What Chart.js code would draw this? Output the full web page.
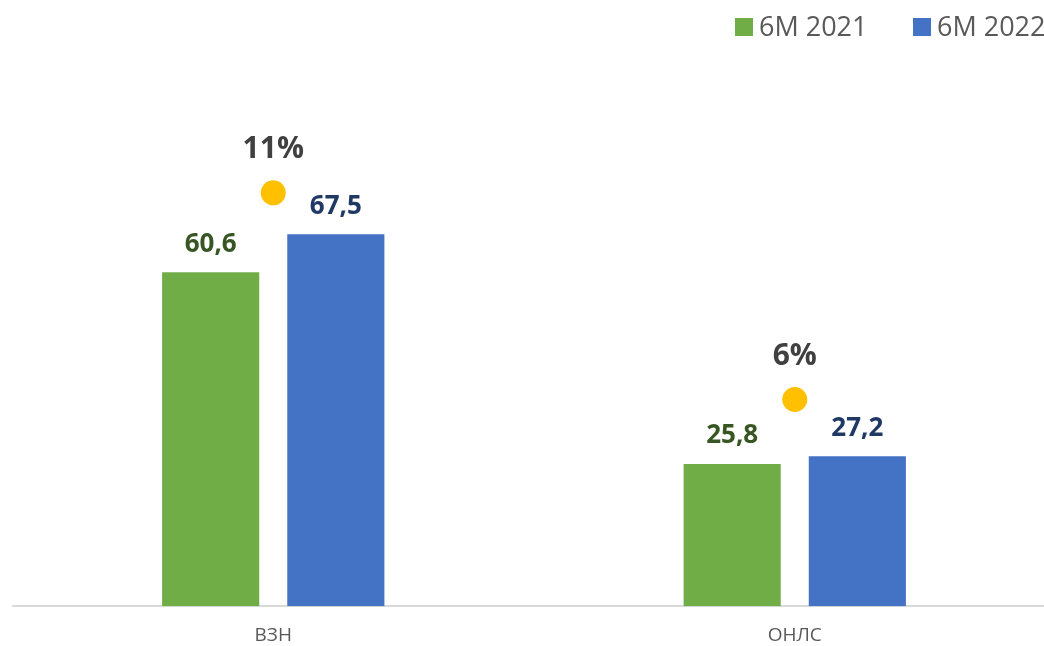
<!DOCTYPE html>
<html>
<head>
<meta charset="utf-8">
<script src="https://cdn.jsdelivr.net/npm/chart.js@4.4.0/dist/chart.umd.min.js"></script>
<style>
html,body{margin:0;padding:0;background:#fff;overflow:hidden;}
#wrap{width:1044px;height:646px;overflow:hidden;}
canvas{display:block;}
</style>
</head>
<body>
<div id="wrap"><canvas id="chart" width="1068" height="667"></canvas></div>
<script>
// ===== data =====
const categories = ['ВЗН', 'ОНЛС'];
const values2021 = [60.6, 25.8];
const values2022 = [67.5, 27.2];
const growthLabels = ['11%', '6%'];
const markerLevel = [75, 37.5]; // where the yellow dots sit
const seriesNames = ['6M 2021', '6M 2022'];

const FONT = "'Open Sans', 'Noto Sans', sans-serif";

// bar value labels + growth labels
const labelsPlugin = {
    id: 'labels',
    afterDatasetsDraw(chart){
        const ctx = chart.ctx;
        ctx.save();
        ctx.textAlign = 'center';
        ctx.textBaseline = 'bottom';
        ctx.font = 'bold 26px ' + FONT;
        const colors = ['#375623', '#203864'];
        [0,1].forEach(di=>{
            chart.getDatasetMeta(di).data.forEach((bar,i)=>{
                ctx.fillStyle = colors[di];
                const v = chart.data.datasets[di].data[i];
                ctx.fillText(v.toFixed(1).replace('.', ','), bar.x, bar.y - 15);
            });
        });
        ctx.font = 'bold 30px ' + FONT;
        ctx.fillStyle = '#404040';
        ctx.textBaseline = 'middle';
        chart.getDatasetMeta(2).data.forEach((pt,i)=>{
            ctx.fillText(growthLabels[i], pt.x, pt.y - 43);
        });
        ctx.restore();
    }
};

// legend drawn by hand (top right, box close to text)
const legendPlugin = {
    id: 'customLegend',
    afterDraw(chart){
        const ctx = chart.ctx;
        ctx.save();
        ctx.font = '27px ' + FONT;
        ctx.textBaseline = 'middle';
        ctx.textAlign = 'left';
        let x = 735;
        [0,1].forEach(di=>{
            const ds = chart.data.datasets[di];
            ctx.fillStyle = ds.backgroundColor;
            ctx.fillRect(x, 18, 18, 18);
            ctx.fillStyle = '#595959';
            ctx.fillText(ds.label, x + 24, 28);
            x += 178;
        });
        ctx.restore();
    }
};

new Chart(document.getElementById('chart'), {
    data: {
        labels: categories,
        datasets: [
            {type:'bar', label: seriesNames[0], data: values2021, backgroundColor:'#70AD47',
             categoryPercentage:0.48, barPercentage:0.776, order:2},
            {type:'bar', label: seriesNames[1], data: values2022, backgroundColor:'#4472C4',
             categoryPercentage:0.48, barPercentage:0.776, order:2},
            {type:'line', label:'growth', data: markerLevel, showLine:false,
             pointRadius:12.5, pointHoverRadius:12.5, pointBackgroundColor:'#FFC000',
             pointBorderWidth:0, borderColor:'#FFC000', order:1}
        ]
    },
    options: {
        responsive:false,
        animation:false,
        layout:{padding:{left:12, right:6, top:55, bottom:2}},
        plugins:{legend:{display:false}, tooltip:{enabled:false}},
        scales:{
            x:{
                grid:{display:false, drawTicks:false},
                border:{display:true, color:'#d9d9d9', width:2},
                ticks:{color:'#595959', font:{family:FONT, size:19}, padding:18}
            },
            y:{display:false, min:0, max:100}
        }
    },
    plugins:[labelsPlugin, legendPlugin]
});
</script>
</body>
</html>
